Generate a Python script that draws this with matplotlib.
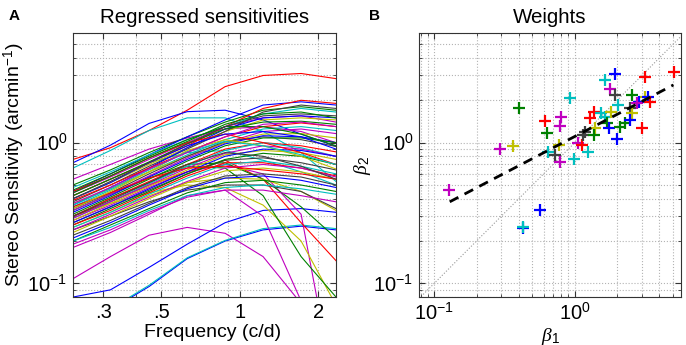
import matplotlib
matplotlib.use("Agg")
import matplotlib.pyplot as plt
from matplotlib.ticker import LogLocator, NullFormatter, FixedLocator, FixedFormatter

plt.rcParams['font.family'] = ['Liberation Sans', 'DejaVu Sans']
plt.rcParams['mathtext.fontset'] = 'custom'
plt.rcParams['mathtext.rm'] = 'Liberation Sans'
plt.rcParams['mathtext.it'] = 'Liberation Serif:italic'
plt.rcParams['mathtext.bf'] = 'Liberation Sans:bold'

# MATLAB-ish colour codes
C = {'b': (0, 0, 1), 'g': (0, 0.5, 0), 'r': (1, 0, 0), 'c': (0, 0.75, 0.75),
     'm': (0.75, 0, 0.75), 'y': (0.75, 0.75, 0), 'k': (0.25, 0.25, 0.25)}

# panel A: sensitivity per subject at the sampled frequencies
freqs = [0.23, 0.32, 0.45, 0.63, 0.88, 1.23, 1.72, 2.34]
curve_colors = ['r', 'b', 'c', 'm', 'm', 'b', 'b', 'c', 'm', 'm', 'y', 'g', 'r', 'c', 'g', 'y', 'k',
                'g', 'b', 'r', 'c', 'm', 'y', 'k', 'b', 'g', 'r', 'c', 'm', 'y', 'k', 'b', 'g', 'r', 'c',
                'm', 'y', 'k', 'b', 'g', 'r', 'c', 'm', 'y', 'k', 'b', 'g', 'c', 'm', 'r', 'k', 'g', 'r',
                'y', 'b', 'c', 'k', 'g', 'm']
curves = [
    [0.76, 0.92, 1.22, 1.70, 2.50, 3.00, 3.10, 2.85],
    [0.72, 0.96, 1.37, 1.66, 1.70, 1.45, 1.15, 0.94],
    [0.66, 0.88, 1.22, 1.50, 1.50, 1.20, 0.85, 0.53],
    [0.55, 0.70, 0.90, 1.08, 1.25, 1.30, 1.20, 1.00],
    [0.108, 0.155, 0.22, 0.25, 0.227, 0.155, 0.072, 0.03],
    [0.08, 0.09, 0.13, 0.19, 0.27, 0.33, 0.34, 0.32],
    [0.045, 0.065, 0.095, 0.15, 0.20, 0.24, 0.255, 0.24],
    [0.046, 0.066, 0.097, 0.152, 0.202, 0.245, 0.26, 0.245],
    [0.18, 0.23, 0.31, 0.42, 0.46, 0.30, 0.075, 0.02],
    [0.28, 0.36, 0.48, 0.62, 0.70, 0.60, 0.31, 0.015],
    [0.30, 0.37, 0.44, 0.50, 0.48, 0.36, 0.20, 0.07],
    [0.30, 0.40, 0.52, 0.68, 0.66, 0.42, 0.155, 0.08],
    [0.30, 0.38, 0.50, 0.62, 0.75, 0.55, 0.27, 0.145],
    [0.42, 0.55, 0.72, 0.85, 0.88, 0.75, 0.62, 0.50],
    [0.33, 0.43, 0.56, 0.70, 0.72, 0.55, 0.35, 0.21],
    [0.25, 0.32, 0.42, 0.52, 0.56, 0.55, 0.45, 0.33],
    [0.24, 0.30, 0.38, 0.46, 0.50, 0.50, 0.45, 0.34],
    [0.50, 0.64, 0.85, 1.10, 1.40, 1.70, 1.80, 1.70],
    [0.45, 0.60, 0.82, 1.10, 1.45, 1.85, 1.95, 1.85],
    [0.42, 0.55, 0.72, 0.95, 1.30, 1.75, 2.00, 1.90],
    [0.48, 0.62, 0.82, 1.05, 1.30, 1.60, 1.75, 1.65],
    [0.44, 0.57, 0.76, 1.00, 1.30, 1.50, 1.55, 1.40],
    [0.40, 0.52, 0.70, 0.92, 1.20, 1.45, 1.50, 1.45],
    [0.38, 0.50, 0.68, 0.90, 1.20, 1.65, 1.85, 1.75],
    [0.36, 0.48, 0.66, 0.92, 1.25, 1.50, 1.55, 1.50],
    [0.42, 0.55, 0.73, 0.98, 1.25, 1.40, 1.42, 1.35],
    [0.39, 0.50, 0.66, 0.86, 1.10, 1.30, 1.38, 1.30],
    [0.35, 0.46, 0.62, 0.82, 1.05, 1.25, 1.30, 1.22],
    [0.33, 0.43, 0.58, 0.78, 1.00, 1.20, 1.25, 1.16],
    [0.37, 0.47, 0.62, 0.80, 1.00, 1.15, 1.16, 1.08],
    [0.34, 0.44, 0.60, 0.80, 1.02, 1.10, 1.05, 0.94],
    [0.32, 0.42, 0.57, 0.76, 0.98, 1.12, 1.10, 1.00],
    [0.31, 0.41, 0.55, 0.74, 0.95, 1.08, 1.08, 1.00],
    [0.30, 0.40, 0.53, 0.70, 0.90, 1.00, 0.95, 0.86],
    [0.29, 0.38, 0.51, 0.68, 0.88, 1.00, 0.92, 0.80],
    [0.29, 0.38, 0.50, 0.66, 0.84, 0.95, 0.90, 0.80],
    [0.28, 0.37, 0.49, 0.64, 0.82, 0.88, 0.85, 0.76],
    [0.27, 0.35, 0.46, 0.60, 0.75, 0.78, 0.72, 0.64],
    [0.27, 0.35, 0.47, 0.62, 0.80, 0.90, 0.88, 0.80],
    [0.26, 0.34, 0.45, 0.60, 0.76, 0.84, 0.80, 0.70],
    [0.26, 0.33, 0.44, 0.58, 0.72, 0.72, 0.66, 0.58],
    [0.25, 0.32, 0.43, 0.56, 0.70, 0.74, 0.68, 0.60],
    [0.24, 0.31, 0.41, 0.53, 0.66, 0.70, 0.66, 0.57],
    [0.23, 0.30, 0.40, 0.52, 0.63, 0.66, 0.62, 0.55],
    [0.22, 0.28, 0.37, 0.48, 0.58, 0.60, 0.57, 0.50],
    [0.21, 0.27, 0.36, 0.47, 0.56, 0.58, 0.54, 0.48],
    [0.20, 0.26, 0.34, 0.44, 0.52, 0.54, 0.50, 0.45],
    [0.20, 0.25, 0.33, 0.42, 0.48, 0.50, 0.47, 0.43],
    [0.19, 0.24, 0.32, 0.41, 0.46, 0.46, 0.42, 0.38],
    [0.35, 0.44, 0.56, 0.66, 0.68, 0.64, 0.60, 0.55],
    [0.30, 0.39, 0.52, 0.70, 0.85, 0.80, 0.68, 0.55],
    [0.46, 0.60, 0.80, 1.05, 1.30, 1.30, 1.15, 0.95],
    [0.45, 0.58, 0.78, 1.00, 1.15, 1.00, 0.85, 0.70],
    [0.34, 0.45, 0.62, 0.88, 1.05, 0.95, 0.80, 0.65],
    [0.40, 0.52, 0.72, 0.95, 1.15, 1.20, 1.10, 0.90],
    [0.36, 0.47, 0.64, 0.86, 1.02, 0.95, 0.82, 0.70],
    [0.40, 0.53, 0.72, 0.98, 1.30, 1.55, 1.60, 1.55],
    [0.44, 0.58, 0.78, 1.02, 1.35, 1.60, 1.65, 1.50],
    [0.37, 0.48, 0.65, 0.85, 1.10, 1.35, 1.40, 1.30],
]

# panel B: regression weights per subject
beta1 = [0.128, 0.295, 0.362, 0.398, 0.616, 0.637, 0.795, 0.787, 0.65, 0.766, 0.726, 0.787, 0.98,
         0.93, 1.05, 1.12, 1.24, 1.15, 1.19, 1.40, 1.36, 1.29, 1.36, 1.54, 1.64, 1.81, 1.69, 1.74,
         1.99, 1.94, 1.64, 1.78, 1.94, 2.04, 2.54, 3.17, 5.11, 3.00, 2.48, 2.54, 2.10, 2.28, 2.48,
         3.17, 2.84, 3.34, 3.43, 2.76, 0.568, 0.425, 0.43]
beta2 = [0.461, 0.898, 0.947, 1.75, 1.43, 1.18, 1.51, 1.31, 0.863, 0.963, 0.818, 0.733, 0.762,
         2.09, 0.99, 0.963, 0.863, 1.13, 1.20, 1.27, 1.13, 1.49, 1.66, 1.62, 1.53, 1.66, 1.37, 1.27,
         1.06, 3.08, 2.79, 2.40, 2.18, 1.85, 2.18, 2.94, 3.20, 1.27, 1.75, 1.62, 1.30, 1.37, 1.45,
         2.12, 1.96, 2.12, 1.96, 1.90, 0.333, 0.246, 0.25]
point_colors = ['m', 'm', 'y', 'g', 'r', 'g', 'm', 'm', 'c', 'y', 'k', 'm', 'c',
                'c', 'm', 'r', 'c', 'k', 'k', 'y', 'g', 'r', 'r', 'c', 'c', 'y', 'g', 'b',
                'b', 'b', 'c', 'm', 'k', 'c', 'g', 'r', 'r', 'r', 'k', 'y', 'g', 'g', 'b',
                'y', 'b', 'b', 'r', 'm', 'b', 'b', 'c']
fit_b1 = [0.129, 5.03]
fit_b2 = [0.38, 2.57]

fig = plt.figure(figsize=(6.86, 3.45), dpi=100)
axA = fig.add_axes([0.1064, 0.139, 0.3834, 0.765])
axB = fig.add_axes([0.6108, 0.139, 0.382, 0.765])

for vals, col in zip(curves, curve_colors):
    axA.plot(freqs, vals, color=C[col], lw=0.8)

for x, y, col in zip(beta1, beta2, point_colors):
    axB.plot(x, y, '+', color=C[col], ms=8.5, mew=1.6)
lim = [0.078, 6.0]
axB.plot(lim, lim, ':', color=(0.6, 0.6, 0.6), lw=0.8, zorder=0)
axB.plot(fit_b1, fit_b2, '--', color='k', lw=2, dashes=(3.5, 2.5))

for ax in (axA, axB):
    ax.set_xscale('log')
    ax.set_yscale('log')
    ax.set_ylim(0.08, 6.0)
    ax.grid(True, which='both', linestyle=':', color=(0.7, 0.7, 0.7), lw=0.8)
    ax.tick_params(which='both', direction='in', top=True, right=True, labelsize=14.5,
                   color=(0.2, 0.2, 0.2), pad=4)
    ax.tick_params(which='major', length=4)
    ax.tick_params(which='minor', length=2)
    ax.yaxis.set_major_locator(FixedLocator([0.1, 1.0]))
    ax.yaxis.set_major_formatter(FixedFormatter(['10$^{-1}$', '10$^{0}$']))
    ax.yaxis.set_minor_locator(LogLocator(base=10, subs=range(2, 10)))
    ax.yaxis.set_minor_formatter(NullFormatter())
    for s in ax.spines.values():
        s.set_color((0.2, 0.2, 0.2))
        s.set_linewidth(0.8)

axA.set_xlim(0.23, 2.34)
axA.xaxis.set_major_locator(FixedLocator([0.3, 0.5, 1, 2]))
axA.xaxis.set_major_formatter(FixedFormatter(['.3', '.5', '1', '2']))
axA.xaxis.set_minor_locator(LogLocator(base=10, subs=range(2, 10)))
axA.xaxis.set_minor_formatter(NullFormatter())
axA.set_title('Regressed sensitivities', fontsize=14.8, pad=7)
axA.set_xlabel('Frequency (c/d)', fontsize=14)
axA.xaxis.set_label_coords(0.53, -0.102)
axA.set_ylabel('Stereo Sensitivity (arcmin$^{-1}$)', fontsize=14)
axA.yaxis.set_label_coords(-0.175, 0.5)

axB.set_xlim(0.078, 5.7)
axB.xaxis.set_major_locator(FixedLocator([0.1, 1.0]))
axB.xaxis.set_major_formatter(FixedFormatter(['10$^{-1}$', '10$^{0}$']))
axB.xaxis.set_minor_locator(LogLocator(base=10, subs=range(2, 10)))
axB.xaxis.set_minor_formatter(NullFormatter())
axB.set_title('Weights', fontsize=14.8, pad=7)
axB.set_xlabel(r'$\beta_\mathit{1}$', fontsize=14)
axB.xaxis.set_label_coords(0.5, -0.108)
axB.set_ylabel(r'$\beta_\mathit{2}$', fontsize=14)
axB.yaxis.set_label_coords(-0.175, 0.5)

fig.text(0.012, 0.975, 'A', fontsize=11, fontweight='bold', va='top')
fig.text(0.538, 0.975, 'B', fontsize=11, fontweight='bold', va='top')

fig.savefig('out.png', dpi=100)
